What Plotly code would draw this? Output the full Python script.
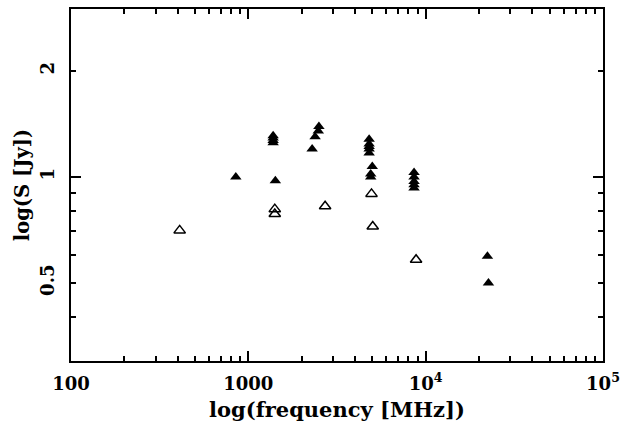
import plotly.graph_objects as go
import math

# Filled triangles
filled_freq = [850, 1420, 1380, 1380, 1380, 1380, 2290, 2380, 2480, 2500,
               4800, 4800, 4800, 4800, 4800, 5000, 4900, 4900,
               8600, 8600, 8600, 8600, 8600, 22300, 22600]
filled_flux = [1.00, 0.975, 1.31, 1.29, 1.27, 1.25, 1.20, 1.30, 1.35, 1.39,
               1.28, 1.24, 1.22, 1.20, 1.17, 1.07, 1.02, 1.00,
               1.03, 1.00, 0.97, 0.95, 0.93, 0.595, 0.50]

# Open triangles
open_freq = [410, 1410, 1410, 2710, 4950, 5030, 8830]
open_flux = [0.705, 0.81, 0.785, 0.826, 0.895, 0.723, 0.582]

x_decades = [100, 1000, 10000, 100000]
x_decade_labels = ["100", "1000", "10<sup>4</sup>", "10<sup>5</sup>"]
y_labels = {0.5: "0.5", 1: "1", 2: "2"}

x_ticks = [m * d for d in [100, 1000, 10000] for m in range(1, 10)] + [100000]
x_text = [x_decade_labels[x_decades.index(v)] if v in x_decades else " " for v in x_ticks]
y_ticks = [0.4, 0.5, 0.6, 0.7, 0.8, 0.9, 1, 2]
y_text = [y_labels.get(v, " ") for v in y_ticks]

tick_font = dict(family="DejaVu Serif", size=18, color="black", weight="bold")
xtitle_font = dict(family="DejaVu Serif", size=21, color="black", weight="bold")
ytitle_font = dict(family="DejaVu Serif", size=19.5, color="black", weight="bold")

fig = go.Figure()
fig.add_trace(go.Scatter(x=filled_freq, y=filled_flux, mode="markers",
                         marker=dict(symbol="triangle-up", size=10, color="black"),
                         showlegend=False))
fig.add_trace(go.Scatter(x=open_freq, y=open_flux, mode="markers",
                         marker=dict(symbol="triangle-up-open", size=10, color="black",
                                     line=dict(width=1.5, color="black")),
                         showlegend=False))

axis_common = dict(showline=True, linecolor="black", linewidth=2, mirror="ticks",
                   ticks="inside", ticklen=5, tickwidth=1.5, tickcolor="black",
                   showgrid=False, zeroline=False, tickfont=tick_font, automargin=False)

fig.update_xaxes(type="log", range=[2, 5], tickmode="array", tickvals=x_ticks, ticktext=x_text,
                 tickangle=0,
                 minor=dict(tickmode="array", tickvals=x_decades, ticks="inside", ticklen=10,
                            tickwidth=1.5, tickcolor="black", showgrid=False),
                 title=dict(text="log(frequency [MHz])", font=xtitle_font, standoff=10),
                 ticklabelstandoff=5, **axis_common)
fig.update_yaxes(type="log", range=[math.log10(0.3), math.log10(3)], tickmode="array",
                 tickvals=y_ticks, ticktext=y_text, tickangle=-90,
                 minor=dict(tickmode="array", tickvals=[1], ticks="inside", ticklen=10,
                            tickwidth=1.5, tickcolor="black", showgrid=False),
                 title=dict(text="log(S [Jy])", font=ytitle_font, standoff=2),
                 ticklabelstandoff=8, **axis_common)

fig.update_layout(width=622, height=434, margin=dict(l=71, r=19, t=9, b=73),
                  paper_bgcolor="white", plot_bgcolor="white")

fig.write_html("out.html", config={"displayModeBar": False},
               post_script="document.body.style.margin='0';")
